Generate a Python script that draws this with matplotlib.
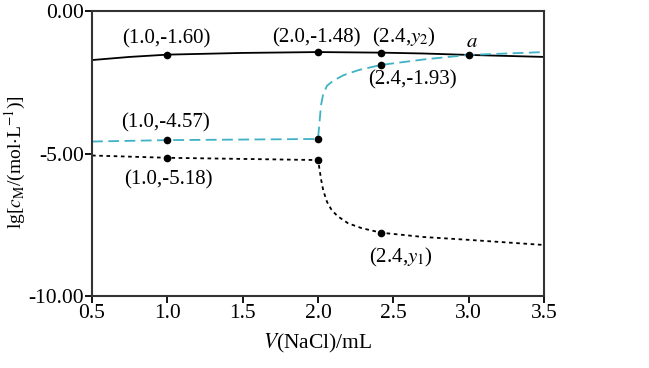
import numpy as np
import matplotlib.pyplot as plt

plt.rcParams['font.family'] = ['Liberation Serif', 'DejaVu Serif']
plt.rcParams['mathtext.fontset'] = 'stix'

# solid line (upper curve)
x_solid = [0.5, 0.75, 1.0, 1.5, 2.0, 2.42, 2.7, 3.0, 3.5]
y_solid = [-1.72, -1.61, -1.53, -1.47, -1.44, -1.46, -1.49, -1.54, -1.61]

# cyan dashed curve
x_dash = [0.5, 1.0, 1.5, 2.0, 2.01, 2.02, 2.035, 2.06, 2.1, 2.17, 2.27, 2.42, 2.7, 3.0, 3.5]
y_dash = [-4.58, -4.53, -4.51, -4.49, -3.9, -3.3, -2.9, -2.62, -2.45, -2.25, -2.07, -1.89, -1.70, -1.54, -1.44]

# black dotted curve
x_dot = [0.5, 1.0, 1.5, 2.0, 2.01, 2.02, 2.035, 2.06, 2.09, 2.13, 2.2, 2.29, 2.42, 2.7, 3.0, 3.5]
y_dot = [-5.07, -5.15, -5.19, -5.23, -5.55, -5.9, -6.3, -6.7, -6.98, -7.2, -7.45, -7.62, -7.78, -7.93, -8.03, -8.21]

# marked points
pts_x = [1.0, 2.0, 2.42, 3.0, 1.0, 2.0, 2.42, 1.0, 2.0, 2.42]
pts_y = [-1.53, -1.44, -1.46, -1.54, -4.53, -4.49, -1.89, -5.15, -5.23, -7.78]

# annotations
ann_text = ['(1.0,-1.60)', '(2.0,-1.48)', r'(2.4,$y_2$)', r'$a$', '(2.4,-1.93)',
            '(1.0,-4.57)', '(1.0,-5.18)', r'(2.4,$y_1$)']
ann_x = [0.99, 1.99, 2.57, 3.02, 2.63, 0.99, 1.01, 2.55]
ann_y = [-0.98, -0.93, -0.93, -1.1, -2.42, -3.93, -5.93, -8.65]

fig = plt.figure(figsize=(6.49, 3.68), dpi=100)
ax = fig.add_axes([0.1418, 0.1957, 0.6964, 0.7743])

cyan = '#3fb2c6'
ax.plot(x_solid, y_solid, color='black', lw=1.3)
ax.plot(x_dash, y_dash, color=cyan, lw=1.3, ls=(0, (6, 3)))
ax.plot(x_dot, y_dot, color='black', lw=1.3, ls=(0, (2, 2)))
ax.plot(pts_x, pts_y, 'o', color='black', ms=4.5, zorder=5)

for t, xx, yy in zip(ann_text, ann_x, ann_y):
    ax.text(xx, yy, t, ha='center', va='center', fontsize=15)

ax.set_xlim(0.5, 3.5)
ax.set_ylim(-10, 0)
ax.set_xticks([0.5, 1.0, 1.5, 2.0, 2.5, 3.0, 3.5])
ax.set_yticks([0, -5, -10])
ax.set_yticklabels(['0.00', '-5.00', '-10.00'])
ax.tick_params(direction='out', length=5, width=1.3, labelsize=15.5, pad=1)
for s in ax.spines.values():
    s.set_linewidth(1.5)
    s.set_color('#333333')

ax.set_xlabel(r'$V$(NaCl)/mL', fontsize=15.5, labelpad=6)
ax.set_ylabel(r'lg[$c_{\rm M}$/(mol$\cdot$L$^{-1}$)]', fontsize=14, va='center')
ax.yaxis.set_label_coords(-0.17, 0.47)

fig.savefig('out.png', dpi=100)
